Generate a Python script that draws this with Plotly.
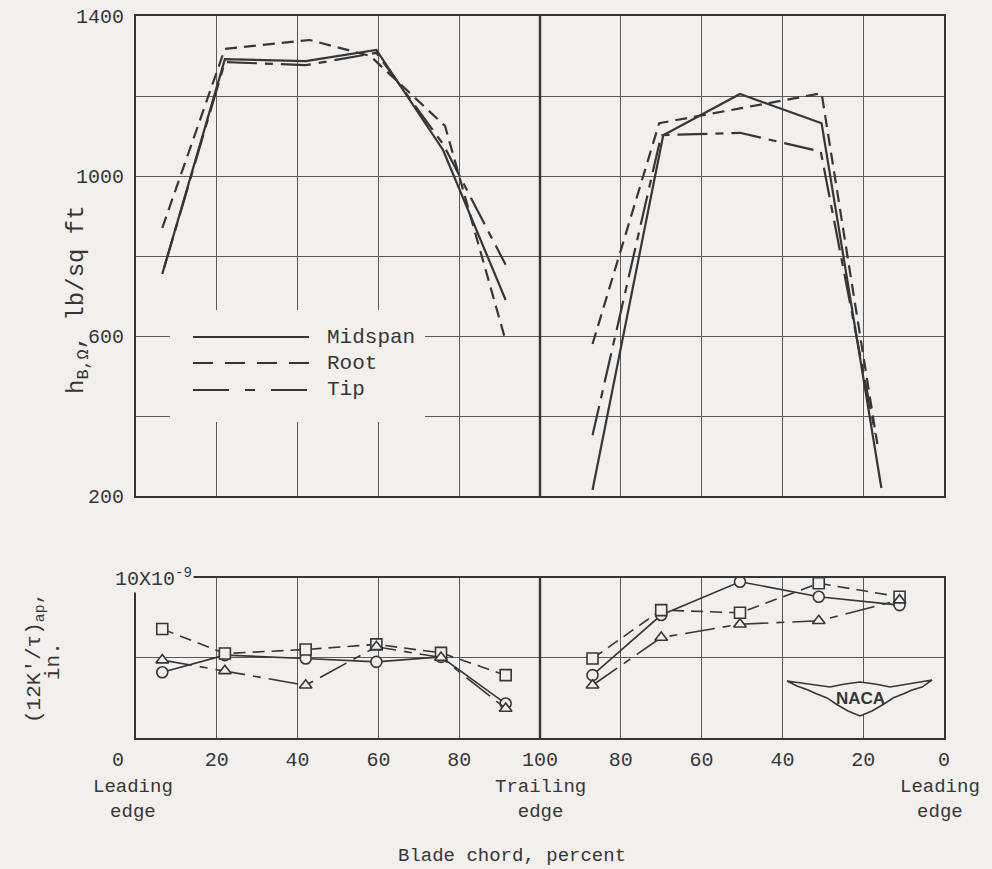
import plotly.graph_objects as go

# ---------------- data ----------------
# top panel: h_B,Omega (lb/sq ft) vs blade chord (percent)
# left half of chart: chord 0 -> 100 ; right half: chord 100 -> 0
mid_top_left_c = [6.5, 22, 42, 59.5, 76, 91.5]
mid_top_left_h = [755, 1292, 1287, 1315, 1065, 690]
root_top_left_c = [6.5, 22, 43, 58, 76.5, 91.5]
root_top_left_h = [870, 1318, 1340, 1300, 1125, 588]
tip_top_left_c = [7, 22, 42, 59.5, 76, 91.5]
tip_top_left_h = [772, 1285, 1277, 1308, 1080, 778]

mid_top_right_c = [87, 69.5, 50.5, 30.3, 15.5]
mid_top_right_h = [215, 1102, 1205, 1132, 220]
root_top_right_c = [87, 70.5, 50.5, 30.3, 16.5]
root_top_right_h = [580, 1132, 1169, 1207, 330]
tip_top_right_c = [87, 70, 50.5, 30.5, 17]
tip_top_right_h = [352, 1102, 1108, 1061, 355]

# bottom panel: (12K'/tau)_ap, in. (x 1e-9)
bot_left_c = [6.5, 22, 42, 59.5, 75.5, 91.5]
bot_right_c = [87, 70, 50.5, 31, 11]
mid_bot_left = [4.1, 5.17, 4.96, 4.75, 5.06, 2.15]
mid_bot_right = [3.92, 7.67, 9.75, 8.81, 8.29]
root_bot_left = [6.8, 5.27, 5.52, 5.84, 5.31, 3.92]
root_bot_right = [4.96, 7.98, 7.81, 9.65, 8.81]
tip_bot_left = [4.86, 4.19, 3.29, 5.69, 5.02, 1.84]
tip_bot_right = [3.29, 6.27, 7.1, 7.31, 8.6]

x_tick_vals = [20, 40, 60, 80, 100, 120, 140, 160, 180, 200]
x_tick_text = ["20", "40", "60", "80", "100", "80", "60", "40", "20", "0"]
y_top_vals = [200, 400, 600, 800, 1000, 1200, 1400]
y_top_text = ["200", "", "600", "", "1000", "", "1400"]

# ---------------- style ----------------
BG = "#f3efec"
INK = "#363636"
GRID = "#5a5a5a"
FONT = "Liberation Mono"
W, H = 992, 869
ML, MR, MT, MB = 136, 48, 16, 131
PW, PH = W - ML - MR, H - MT - MB

ROOT_DASH = "12px,7px"
TIP_DASH = "30px,8px,8px,8px"


def px(xp):
    return (xp - ML) / PW


def py(yp):
    return (H - MB - yp) / PH


def folded(left_c, left_v, right_c, right_v):
    xs = list(left_c) + [None] + [200 - c for c in right_c]
    ys = list(left_v) + [None] + list(right_v)
    return xs, ys


fig = go.Figure()

series_top = [
    ("Midspan", mid_top_left_c, mid_top_left_h, mid_top_right_c, mid_top_right_h, "solid"),
    ("Root", root_top_left_c, root_top_left_h, root_top_right_c, root_top_right_h, ROOT_DASH),
    ("Tip", tip_top_left_c, tip_top_left_h, tip_top_right_c, tip_top_right_h, TIP_DASH),
]
for name, lc, lv, rc, rv, dash in series_top:
    xs, ys = folded(lc, lv, rc, rv)
    fig.add_trace(go.Scatter(x=xs, y=ys, mode="lines", name=name, showlegend=False,
                             line=dict(color=INK, width=2.2, dash=dash),
                             xaxis="x", yaxis="y"))

series_bot = [
    ("Midspan", mid_bot_left, mid_bot_right, "solid", "circle"),
    ("Root", root_bot_left, root_bot_right, ROOT_DASH, "square"),
    ("Tip", tip_bot_left, tip_bot_right, TIP_DASH, "triangle-up"),
]
for name, lv, rv, dash, sym in series_bot:
    xs, ys = folded(bot_left_c, lv, bot_right_c, rv)
    fig.add_trace(go.Scatter(x=xs, y=ys, mode="lines+markers", name=name, showlegend=False,
                             line=dict(color=INK, width=1.6, dash=dash),
                             marker=dict(symbol=sym, size=11, color=BG,
                                         line=dict(color=INK, width=1.6)),
                             xaxis="x2", yaxis="y2"))

top_dom = [py(496), 1]
bot_dom = [0, py(577.7)]

axis_common = dict(showgrid=True, gridcolor=GRID, gridwidth=1.2, zeroline=False,
                   showline=True, linecolor=INK, linewidth=2, mirror=True,
                   ticks="outside", tickcolor="rgba(0,0,0,0)", automargin=False)

fig.update_layout(
    width=W, height=H,
    margin=dict(l=ML, r=MR, t=MT, b=MB),
    paper_bgcolor=BG, plot_bgcolor=BG,
    font=dict(family=FONT, color=INK, size=19),
    showlegend=False,
    xaxis=dict(domain=[0, 1], range=[0, 200], anchor="y", tickvals=x_tick_vals,
               showticklabels=False, ticklen=8, **axis_common),
    yaxis=dict(domain=top_dom, range=[200, 1400], anchor="x", tickvals=y_top_vals,
               ticktext=y_top_text, tickfont=dict(size=20), ticklen=6, **axis_common),
    xaxis2=dict(domain=[0, 1], range=[0, 200], anchor="y2", tickvals=x_tick_vals,
                ticktext=x_tick_text, tickfont=dict(size=20), ticklen=2, **axis_common),
    yaxis2=dict(domain=bot_dom, range=[0, 10], anchor="x2", tickvals=[0, 5, 10],
                showticklabels=False, ticklen=8, **axis_common),
)

shapes = []
# thick centre line (trailing edge) in both panels
for xr, yr in (("x", "y domain"), ("x2", "y2 domain")):
    shapes.append(dict(type="line", xref=xr, yref=yr, x0=100, x1=100, y0=0, y1=1,
                       line=dict(color=INK, width=2.4)))

# legend box (blanks grid behind it)
shapes.append(dict(type="rect", xref="paper", yref="paper",
                   x0=px(170), x1=px(425), y0=py(422), y1=py(310),
                   fillcolor=BG, line=dict(width=0), layer="above"))
legend_items = [("Midspan", 337, "solid"), ("Root", 363, "20px,12px"),
                ("Tip", 390, "36px,16px,10px,16px")]
annotations = []
for label_text, yy, dash in legend_items:
    shapes.append(dict(type="line", xref="paper", yref="paper",
                       x0=px(193), x1=px(309), y0=py(yy), y1=py(yy),
                       line=dict(color=INK, width=2.2, dash=dash), layer="above"))
    annotations.append(dict(text=label_text, xref="paper", yref="paper", x=px(325), y=py(yy),
                            xanchor="left", yanchor="middle", showarrow=False,
                            font=dict(size=21)))

# NACA wing logo (decoration)
wing = [(787, 681), (830, 687), (845, 684), (860, 682), (875, 684), (890, 687), (932, 680),
        (922, 687), (912, 690), (903, 694), (893, 698), (884, 704), (872, 711), (860, 716),
        (848, 711), (836, 704), (827, 698), (817, 694), (808, 690), (797, 686)]
path = "M " + " L ".join(f"{px(a):.4f},{py(b):.4f}" for a, b in wing) + " Z"
shapes.append(dict(type="path", xref="paper", yref="paper", path=path,
                   line=dict(color=INK, width=1.5), fillcolor=BG, layer="above"))


def label(text, x, y, size=19, **kw):
    d = dict(text=text, xref="paper", yref="paper", x=px(x), y=py(y),
             xanchor="center", yanchor="middle", showarrow=False, font=dict(size=size))
    d.update(kw)
    return d


annotations += [
    label("<b>NACA</b>", 860, 698, font=dict(family="Liberation Sans", size=17, color=INK)),
    label("h<sub>B,Ω</sub>, lb/sq ft", 78, 300, size=24, textangle=-90),
    label("(12K'/τ)<sub>ap</sub>,", 35, 658, size=21, textangle=-90),
    label("in.", 53, 661, size=21, textangle=-90),
    label("10X10<sup>-9</sup>", 194, 578, size=20, xanchor="right", bgcolor=BG),
    label("0", 118, 760, size=20),
    label("Leading<br>edge", 133, 799),
    label("Trailing<br>edge", 540, 799),
    label("Leading<br>edge", 940, 799),
    label("Blade chord, percent", 512, 856),
]

fig.update_layout(shapes=shapes, annotations=annotations)
fig.write_html("out.html",
               config={"displayModeBar": False},
               post_script="document.body.style.margin='0px';"
                           "document.body.style.background='" + BG + "';")
